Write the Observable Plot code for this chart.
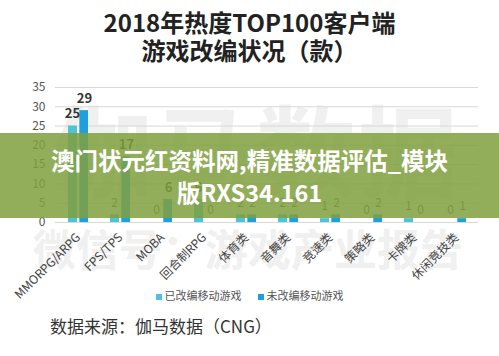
<!DOCTYPE html>
<html>
<head>
<meta charset="utf-8">
<script src="https://cdn.jsdelivr.net/npm/d3@7"></script>
<script src="https://cdn.jsdelivr.net/npm/@observablehq/plot@0.6"></script>
<style>
  html, body { margin: 0; padding: 0; background: #fff; }
  #wrap { position: relative; width: 499px; height: 356px; overflow: hidden; background: #fff;
          font-family: "Noto Sans CJK SC", "Noto Sans", sans-serif; }
  .title { position: absolute; left: 0; width: 499px; text-align: center; color: #222; font-weight: 700; font-size: 24px; line-height: 28px; }
  .wm { position: absolute; color: #f0f0f0; font-weight: 700; white-space: nowrap; }
  #chart { position: absolute; left: 0; top: 70px; }
  #legend { position: absolute; top: 288px; left: 0; width: 499px; text-align: center; font-size: 11px; color: #555; line-height: 14px; }
  #legend span.item { margin: 0 8px; }
  #legend span.sw { display: inline-block; width: 6px; height: 6px; margin-right: 3px; vertical-align: middle; }
  #caption { position: absolute; top: 314px; left: 50px; font-size: 17px; color: #333; line-height: 24px; }
  #banner { position: absolute; left: 0; top: 133px; width: 499px; height: 85px; background: rgba(128,160,62,0.85);
            color: #fff; font-weight: 700; font-size: 23.5px; line-height: 32px; text-align: center;
            display: flex; align-items: center; justify-content: center; }
</style>
</head>
<body>
<div id="wrap">
  <div class="title" style="top:8px">2018年热度TOP100客户端</div>
  <div class="title" style="top:36px">游戏改编状况（款）</div>
  <div class="wm" style="left:52px; top:92px; font-size:100px; line-height:110px; letter-spacing:2px">伽马数据</div>
  <div class="wm" style="left:33px; top:222px; font-size:43px; line-height:50px">微信号：游戏产业报告</div>
  <div id="chart"></div>
  <div id="legend"></div>
  <div id="caption">数据来源：伽马数据（CNG）</div>
  <div id="banner"><div>澳门状元红资料网,精准数据评估_模块<br>版RXS34.161</div></div>
</div>
<script>
const categories = ["MMORPG/ARPG", "FPS/TPS", "MOBA", "回合制RPG", "体育类", "音舞类", "竞速类", "策略类", "卡牌类", "休闲竞技类"];
const adapted = [25, 2, 0, 6, 2, 2, 1, 0, 1, 0];
const notAdapted = [29, 17, 6, 0, 2, 2, 2, 2, 0, 1];
const seriesNames = ["已改编移动游戏", "未改编移动游戏"];
const seriesColors = ["#4cc3d6", "#1ea0db"];
const yTicks = [0, 5, 10, 15, 20, 25, 30, 35];

const data = categories.map((c, i) => ({cat: c, a: adapted[i], b: notAdapted[i]}));
const font = "'Noto Sans CJK SC', 'Noto Sans', sans-serif";

const chart = Plot.plot({
  width: 499,
  height: 220,
  marginTop: 17,
  marginBottom: 68,
  marginLeft: 55,
  marginRight: 21,
  style: {fontFamily: font, background: "transparent", overflow: "visible"},
  x: {domain: categories, padding: 0, label: null},
  y: {domain: [0, 35], label: null},
  marks: [
    Plot.gridY(yTicks, {stroke: "#d9d9d9", strokeOpacity: 1}),
    Plot.barY(data, {x: "cat", y: "a", fill: seriesColors[0], insetLeft: 11, insetRight: 22}),
    Plot.barY(data, {x: "cat", y: "b", fill: seriesColors[1], insetLeft: 22.3, insetRight: 11}),
    Plot.text(data.filter(d => d.a >= 6), {x: "cat", y: "a", text: d => String(d.a), dx: -6, dy: -12, fontSize: 13, fontWeight: 700, fill: "#333"}),
    Plot.text(data.filter(d => d.a < 6), {x: "cat", y: "a", text: d => String(d.a), dx: -6, dy: -12, fontSize: 12, fill: "#555"}),
    Plot.text(data.filter(d => d.b >= 6), {x: "cat", y: "b", text: d => String(d.b), dx: 6, dy: -12, fontSize: 13, fontWeight: 700, fill: "#333"}),
    Plot.text(data.filter(d => d.b < 6), {x: "cat", y: "b", text: d => String(d.b), dx: 6, dy: -12, fontSize: 12, fill: "#555"}),
    Plot.axisY({ticks: yTicks, tickSize: 0, tickPadding: 10, fontSize: 12, color: "#555", label: null}),
    Plot.axisX({tickRotate: -45, tickSize: 0, tickPadding: 13, fontSize: 12, color: "#444", label: null})
  ]
});
document.getElementById("chart").appendChild(chart);

const legend = document.getElementById("legend");
seriesNames.forEach((name, i) => {
  const item = document.createElement("span");
  item.className = "item";
  const sw = document.createElement("span");
  sw.className = "sw";
  sw.style.background = seriesColors[i];
  item.appendChild(sw);
  item.appendChild(document.createTextNode(name));
  legend.appendChild(item);
});
</script>
</body>
</html>
